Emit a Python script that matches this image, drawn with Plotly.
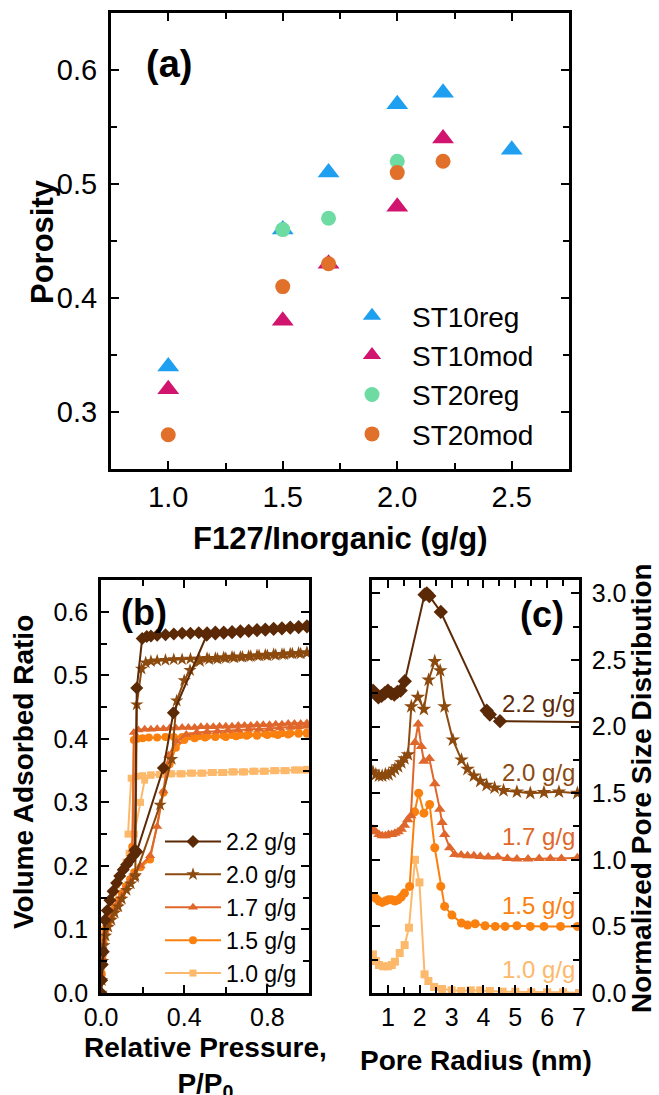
import plotly.graph_objects as go

W, H = 659, 1095
FONT = "Liberation Sans, Arial, sans-serif"

# ---------------- Panel (a) data ----------------
ratio_st10reg = [1.0, 1.5, 1.7, 2.0, 2.2, 2.5]
por_st10reg = [0.34, 0.46, 0.51, 0.57, 0.58, 0.53]
ratio_st10mod = [1.0, 1.5, 1.7, 2.0, 2.2]
por_st10mod = [0.32, 0.38, 0.43, 0.48, 0.54]
ratio_st20reg = [1.5, 1.7, 2.0]
por_st20reg = [0.46, 0.47, 0.52]
ratio_st20mod = [1.0, 1.5, 1.7, 2.0, 2.2]
por_st20mod = [0.28, 0.41, 0.43, 0.51, 0.52]

# ---------------- Panel (b) data (adsorption + desorption) ----------------
P22_ads = [0.0, 0.003, 0.006, 0.011, 0.019, 0.03, 0.043, 0.058, 0.075, 0.09, 0.107, 0.123, 0.139, 0.155, 0.172,
           0.30, 0.348, 0.508, 0.55, 0.59, 0.63, 0.67, 0.71, 0.75, 0.79, 0.83, 0.87, 0.91, 0.95, 0.99]
V22_ads = [0.0, 0.02, 0.045, 0.065, 0.115, 0.13, 0.146, 0.16, 0.173, 0.184, 0.194, 0.202, 0.209, 0.216, 0.2225,
           0.354, 0.441, 0.563, 0.565, 0.566, 0.567, 0.568, 0.569, 0.570, 0.571, 0.572, 0.573, 0.574, 0.575, 0.576]
P22_des = [0.99, 0.95, 0.91, 0.87, 0.83, 0.79, 0.75, 0.71, 0.67, 0.63, 0.59, 0.55, 0.51, 0.47, 0.43, 0.39,
           0.35, 0.31, 0.27, 0.24, 0.22, 0.198, 0.172, 0.163]
V22_des = [0.578, 0.577, 0.576, 0.575, 0.574, 0.573, 0.572, 0.571, 0.570, 0.569, 0.568, 0.568, 0.567, 0.567,
           0.566, 0.566, 0.565, 0.564, 0.563, 0.562, 0.561, 0.558, 0.48, 0.225]

P20_ads = [0.0, 0.004, 0.008, 0.014, 0.022, 0.035, 0.05, 0.066, 0.083, 0.10, 0.123, 0.143, 0.163, 0.284, 0.34,
           0.364, 0.40, 0.428, 0.476, 0.52, 0.56, 0.60, 0.64, 0.68, 0.72, 0.76, 0.80, 0.84, 0.88, 0.92, 0.96, 0.99]
V20_ads = [0.0, 0.02, 0.05, 0.075, 0.09, 0.104, 0.115, 0.126, 0.136, 0.148, 0.162, 0.172, 0.183, 0.296, 0.368,
           0.46, 0.492, 0.508, 0.522, 0.525, 0.526, 0.527, 0.528, 0.529, 0.53, 0.531, 0.531, 0.532, 0.533, 0.534,
           0.534, 0.535]
P20_des = [0.99, 0.95, 0.91, 0.87, 0.83, 0.79, 0.75, 0.71, 0.67, 0.63, 0.59, 0.55, 0.51, 0.47, 0.43, 0.39,
           0.35, 0.31, 0.27, 0.24, 0.215, 0.195, 0.172, 0.165]
V20_des = [0.536, 0.535, 0.534, 0.533, 0.533, 0.532, 0.531, 0.530, 0.529, 0.529, 0.528, 0.527, 0.527, 0.526,
           0.526, 0.525, 0.525, 0.524, 0.523, 0.522, 0.520, 0.51, 0.454, 0.185]

P17_ads = [0.0, 0.004, 0.008, 0.014, 0.022, 0.035, 0.05, 0.066, 0.083, 0.10, 0.12, 0.14, 0.16, 0.19, 0.236,
           0.27, 0.30, 0.324, 0.364, 0.41, 0.46, 0.51, 0.56, 0.61, 0.66, 0.71, 0.76, 0.81, 0.86, 0.91, 0.95, 0.99]
V17_ads = [0.0, 0.025, 0.055, 0.08, 0.095, 0.108, 0.12, 0.131, 0.142, 0.153, 0.165, 0.176, 0.187, 0.2, 0.216,
           0.262, 0.318, 0.374, 0.396, 0.407, 0.41, 0.411, 0.412, 0.413, 0.414, 0.415, 0.415, 0.416, 0.417,
           0.418, 0.419, 0.42]
P17_des = [0.99, 0.96, 0.93, 0.90, 0.87, 0.84, 0.81, 0.78, 0.75, 0.72, 0.69, 0.66, 0.63, 0.60, 0.57, 0.54,
           0.51, 0.48, 0.45, 0.42, 0.39, 0.36, 0.33, 0.30, 0.27, 0.24, 0.21, 0.18, 0.158, 0.152]
V17_des = [0.425, 0.424, 0.424, 0.424, 0.423, 0.423, 0.422, 0.422, 0.422, 0.421, 0.421, 0.421, 0.420, 0.420,
           0.420, 0.419, 0.419, 0.419, 0.418, 0.418, 0.418, 0.417, 0.417, 0.416, 0.416, 0.415, 0.415, 0.414,
           0.41, 0.225]

P15_ads = [0.0, 0.004, 0.008, 0.014, 0.022, 0.035, 0.05, 0.066, 0.083, 0.10, 0.12, 0.14, 0.16, 0.19, 0.236,
           0.30, 0.33, 0.36, 0.40, 0.45, 0.50, 0.55, 0.60, 0.65, 0.70, 0.75, 0.80, 0.85, 0.90, 0.95, 0.99]
V15_ads = [0.0, 0.03, 0.06, 0.085, 0.1, 0.112, 0.124, 0.135, 0.146, 0.157, 0.168, 0.179, 0.19, 0.198, 0.21,
           0.315, 0.36, 0.386, 0.398, 0.401, 0.402, 0.403, 0.403, 0.404, 0.405, 0.405, 0.406, 0.406, 0.407,
           0.408, 0.408]
P15_des = [0.99, 0.95, 0.91, 0.87, 0.83, 0.79, 0.75, 0.71, 0.67, 0.63, 0.59, 0.55, 0.51, 0.47, 0.43, 0.39,
           0.35, 0.31, 0.27, 0.23, 0.20, 0.175, 0.158, 0.15]
V15_des = [0.41, 0.41, 0.409, 0.409, 0.408, 0.408, 0.407, 0.407, 0.406, 0.406, 0.405, 0.405, 0.404, 0.404,
           0.404, 0.403, 0.403, 0.403, 0.402, 0.402, 0.401, 0.40, 0.398, 0.23]

P10_ads = [0.0, 0.003, 0.006, 0.01, 0.018, 0.03, 0.045, 0.06, 0.075, 0.09, 0.105, 0.12, 0.135, 0.16, 0.19,
           0.21, 0.24, 0.28, 0.33, 0.38, 0.43, 0.48, 0.53, 0.58, 0.63, 0.68, 0.73, 0.78, 0.83, 0.88, 0.93, 0.97,
           0.99]
V10_ads = [0.0, 0.04, 0.08, 0.1, 0.115, 0.13, 0.145, 0.158, 0.17, 0.182, 0.194, 0.206, 0.22, 0.25, 0.30,
           0.335, 0.343, 0.344, 0.345, 0.345, 0.346, 0.346, 0.347, 0.347, 0.348, 0.348, 0.349, 0.349, 0.35,
           0.35, 0.351, 0.351, 0.351]
P10_des = [0.99, 0.94, 0.89, 0.84, 0.79, 0.74, 0.69, 0.64, 0.59, 0.54, 0.49, 0.44, 0.39, 0.34, 0.29, 0.24,
           0.20, 0.17, 0.145, 0.13]
V10_des = [0.352, 0.351, 0.35, 0.35, 0.349, 0.349, 0.348, 0.348, 0.347, 0.347, 0.346, 0.346, 0.345, 0.345,
           0.344, 0.343, 0.342, 0.341, 0.338, 0.25]

# ---------------- Panel (c) data (offset pore size distributions) ----------------
r22 = [0.53, 0.62, 0.70, 0.80, 0.90, 1.00, 1.10, 1.20, 1.30, 1.40, 1.53, 2.15, 2.22, 2.30, 2.66, 4.10, 4.20,
       4.52, 8.5]
d22 = [2.27, 2.24, 2.22, 2.23, 2.25, 2.27, 2.25, 2.24, 2.26, 2.27, 2.34, 2.99, 3.0, 2.98, 2.86, 2.12, 2.09,
       2.04, 2.03]
r20 = [0.53, 0.62, 0.72, 0.82, 0.92, 1.02, 1.12, 1.22, 1.32, 1.42, 1.52, 1.63, 1.735, 1.94, 2.13, 2.28, 2.47,
       2.64, 2.78, 3.04, 3.31, 3.5, 3.7, 3.9, 4.1, 4.35, 4.63, 5.05, 5.47, 5.9, 6.37, 6.95]
d20 = [1.66, 1.64, 1.63, 1.63, 1.64, 1.64, 1.66, 1.68, 1.70, 1.73, 1.76, 1.79, 2.15, 2.22, 2.13, 2.35, 2.49,
       2.42, 2.15, 1.90, 1.75, 1.68, 1.63, 1.59, 1.56, 1.54, 1.52, 1.51, 1.50, 1.505, 1.51, 1.50]
r17 = [0.53, 0.62, 0.72, 0.82, 0.92, 1.02, 1.12, 1.22, 1.32, 1.42, 1.52, 1.62, 1.72, 1.85, 1.95, 2.05, 2.13,
       2.30, 2.47, 2.63, 2.70, 2.78, 2.94, 3.10, 3.30, 3.50, 3.70, 3.90, 4.15, 4.45, 4.75, 5.05, 5.40, 5.75,
       6.10, 6.45, 6.95]
d17 = [1.23, 1.21, 1.19, 1.18, 1.18, 1.19, 1.19, 1.20, 1.21, 1.23, 1.26, 1.30, 1.33, 1.88, 2.02, 1.85, 1.74,
       1.76, 1.57, 1.38, 1.28, 1.19, 1.09, 1.04, 1.035, 1.03, 1.03, 1.025, 1.02, 1.02, 1.01, 1.005, 1.005,
       1.01, 1.01, 1.01, 1.015]
r15 = [0.53, 0.62, 0.72, 0.82, 0.92, 1.02, 1.12, 1.22, 1.32, 1.42, 1.52, 1.68, 1.84, 1.965, 2.13, 2.31, 2.47,
       2.66, 2.78, 3.01, 3.31, 3.50, 3.74, 4.05, 4.37, 4.68, 5.05, 5.47, 5.90, 6.42, 6.95]
d15 = [0.725, 0.71, 0.69, 0.68, 0.69, 0.70, 0.70, 0.69, 0.70, 0.72, 0.75, 0.80, 1.36, 1.50, 1.35, 1.415, 1.09,
       0.80, 0.65, 0.585, 0.525, 0.51, 0.52, 0.505, 0.50, 0.50, 0.505, 0.50, 0.50, 0.50, 0.50]
r10 = [0.53, 0.62, 0.72, 0.85, 1.0, 1.12, 1.22, 1.37, 1.525, 1.66, 1.85, 1.99, 2.15, 2.27, 2.45, 2.7, 3.0, 3.3,
       3.6, 3.9, 4.2, 4.6, 5.0, 5.5, 6.0, 6.5, 7.0]
d10 = [0.29, 0.24, 0.21, 0.20, 0.20, 0.21, 0.235, 0.30, 0.36, 0.49, 1.0, 0.83, 0.14, 0.09, 0.045, 0.03, 0.02,
       0.015, 0.02, 0.02, 0.015, 0.01, 0.01, 0.005, 0.005, 0.005, 0.0]

labels_bc = ["1.0 g/g", "1.5 g/g", "1.7 g/g", "2.0 g/g", "2.2 g/g"]
colors_bc = ["#FDB96B", "#FA800F", "#E0672B", "#8C4A0F", "#5B2906"]
symbols_bc = ["square", "circle", "triangle-up", "star", "diamond"]
msize_b = [7, 8, 9, 10, 10]
msize_c = [8, 9, 10, 11, 11]
label_y_c = [0.18, 0.655, 1.174, 1.655, 2.175]

iso_P = [P10_ads + P10_des, P15_ads + P15_des, P17_ads + P17_des, P20_ads + P20_des, P22_ads + P22_des]
iso_V = [V10_ads + V10_des, V15_ads + V15_des, V17_ads + V17_des, V20_ads + V20_des, V22_ads + V22_des]
psd_r = [r10, r15, r17, r20, r22]
psd_d = [d10, d15, d17, d20, d22]


def px(x):
    return x / W


def py(y):
    return 1 - y / H


fig = go.Figure()

# panel (a)
a_series = [
    ("ST10reg", ratio_st10reg, por_st10reg, "triangle-up", "#1E9FF0", 19),
    ("ST10mod", ratio_st10mod, por_st10mod, "triangle-up", "#D1156F", 19),
    ("ST20reg", ratio_st20reg, por_st20reg, "circle", "#6EDBA3", 15),
    ("ST20mod", ratio_st20mod, por_st20mod, "circle", "#E0702A", 15),
]
for name, xs, ys, sym, col, sz in a_series:
    fig.add_trace(go.Scatter(x=xs, y=ys, mode="markers", name=name, xaxis="x", yaxis="y",
                             marker=dict(symbol=sym, color=col, size=sz, line=dict(width=0)),
                             legend="legend"))

# panel (b)
for i in range(5):
    fig.add_trace(go.Scatter(x=iso_P[i], y=iso_V[i], mode="lines+markers", name=labels_bc[i],
                             xaxis="x2", yaxis="y2", legend="legend2",
                             line=dict(color=colors_bc[i], width=2),
                             marker=dict(symbol=symbols_bc[i], color=colors_bc[i], size=msize_b[i],
                                         line=dict(width=0))))

# panel (c)
for i in range(5):
    fig.add_trace(go.Scatter(x=psd_r[i], y=psd_d[i], mode="lines+markers", name=labels_bc[i],
                             xaxis="x3", yaxis="y3", showlegend=False,
                             line=dict(color=colors_bc[i], width=2),
                             marker=dict(symbol=symbols_bc[i], color=colors_bc[i], size=msize_c[i],
                                         line=dict(width=0))))


def axis(domain, rng, dtick, minor_dtick, fsize, tickformat=None, anchor=None, side=None, lw=2.5,
         standoff=6, ticklen=8):
    d = dict(domain=domain, range=rng, dtick=dtick, tick0=0, showline=True, linecolor="black",
             linewidth=lw, mirror="allticks", ticks="inside", ticklen=ticklen, tickwidth=2,
             tickcolor="black", showgrid=False, zeroline=False, automargin=False,
             tickfont=dict(family=FONT, size=fsize, color="black"),
             minor=dict(dtick=minor_dtick, tick0=0, ticks="inside", ticklen=ticklen - 2, tickwidth=2,
                        tickcolor="black", showgrid=False),
             ticklabelstandoff=standoff)
    if tickformat:
        d["tickformat"] = tickformat
    if anchor:
        d["anchor"] = anchor
    if side:
        d["side"] = side
    return d


layout = dict(
    width=W, height=H, margin=dict(l=0, r=0, t=0, b=0, autoexpand=False),
    paper_bgcolor="white", plot_bgcolor="white",
    xaxis=axis([px(111), px(569)], [0.75, 2.75], 0.5, 0.25, 29, ".1f", anchor="y", lw=3, standoff=0),
    yaxis=axis([py(469), py(13)], [0.25, 0.65], 0.1, 0.05, 29, ".1f", anchor="x", lw=3, standoff=5),
    xaxis2=axis([px(101), px(309)], [0, 1.0], 0.4, 0.2, 25, ".1f", anchor="y2", standoff=0),
    yaxis2=axis([py(993), py(580)], [0, 0.65], 0.1, 0.05, 25, ".1f", anchor="x2", standoff=5),
    xaxis3=axis([px(372), px(579)], [0.5, 7.0], 1, 0.5, 25, None, anchor="y3", standoff=0),
    yaxis3=axis([py(993), py(580)], [0, 3.1], 0.5, 0.25, 25, ".1f", anchor="x3", side="right", standoff=5),
    legend=dict(x=px(332), y=py(291), xanchor="left", yanchor="top", bgcolor="rgba(0,0,0,0)",
                font=dict(family=FONT, size=28, color="black"), itemwidth=70, borderwidth=0,
                tracegroupgap=0),
    legend2=dict(x=px(160), y=py(820), xanchor="left", yanchor="top", bgcolor="rgba(0,0,0,0)",
                 font=dict(family=FONT, size=23, color="black"), itemwidth=56, borderwidth=0,
                 traceorder="reversed", tracegroupgap=0),
    showlegend=True,
)

ann = []


def text(x, y, s, size, bold=True, angle=0, color="black", xanchor="center", xref="paper", yref="paper"):
    ann.append(dict(x=x, y=y, xref=xref, yref=yref, text=s, showarrow=False, textangle=angle,
                    xanchor=xanchor, yanchor="middle",
                    font=dict(family=FONT, size=size, color=color, weight="bold" if bold else "normal")))


text(px(169), py(64), "(a)", 38)
text(px(144), py(612), "(b)", 36)
text(px(542), py(614), "(c)", 36)
text(px(42), py(242), "Porosity", 31, angle=-90)
text(px(340), py(538), "F127/Inorganic (g/g)", 31)
text(px(23), py(772), "Volume Adsorbed Ratio", 28, angle=-90)
text(px(205), py(1067), "Relative Pressure,<br>P/P<sub>0</sub>", 28)
text(px(476), py(1060), "Pore Radius (nm)", 28)
text(px(641), py(788), "Normalized Pore Size Distribution", 28, angle=-90)
for i in range(5):
    text(6.95, label_y_c[i], labels_bc[i], 24, bold=False, color=colors_bc[i], xanchor="right",
         xref="x3", yref="y3")

layout["annotations"] = ann
fig.update_layout(**layout)
fig.write_html("out.html")
